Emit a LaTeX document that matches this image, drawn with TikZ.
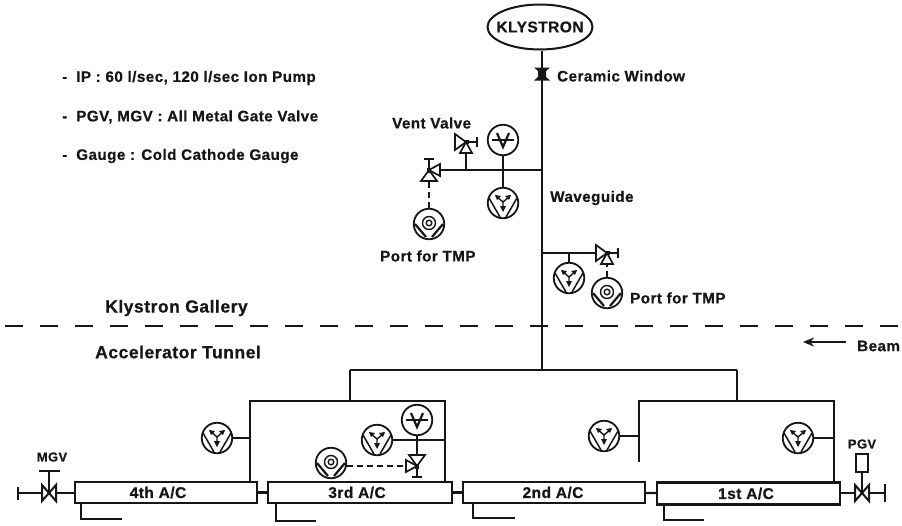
\documentclass[tikz,border=0pt]{standalone}
\usepackage{fontspec}
\setmainfont[LetterSpace=3,BoldFeatures={FakeBold=0.6}]{Liberation Sans}
\usetikzlibrary{shapes.geometric,arrows.meta}
\definecolor{ink}{HTML}{161616}
\tikzset{
 x=1pt,y=-1pt,
 every path/.style={color=ink},
 wire/.style={line width=1.7pt,color=ink},
 thick wire/.style={line width=2.4pt,color=ink},
 dash wire/.style={line width=1.6pt,color=ink,dash pattern=on 6pt off 4pt},
 lab/.style={font=\bfseries\fontsize{15.2}{17}\selectfont,text=ink,inner sep=0pt,anchor=west},
 biglab/.style={font=\bfseries\fontsize{17.5}{20}\selectfont,text=ink,inner sep=0pt,anchor=west},
 smlab/.style={font=\bfseries\fontsize{13}{15}\selectfont,text=ink,inner sep=0pt},
 acbox/.style={draw=ink,line width=2.2pt,fill=white,minimum height=21pt,inner sep=0pt,font=\bfseries\fontsize{15.5}{17}\selectfont,text=ink},
 sym/.style={circle,draw=ink,line width=1.8pt,fill=white,minimum size=30.5pt,inner sep=0pt},
 pump/.style={sym,path picture={\begin{scope}[shift={(path picture bounding box.center)},line width=1.5pt]
   \draw (-14,-5)--(-3,14); \draw (14,-5)--(3,14);
   \draw[line width=1.4pt] (-7,-7)--(0,-1)--(7,-7) (0,-1)--(0,7);
   \fill (-8,-8)--(-2,-7)--(-6,-3)--cycle (8,-8)--(2,-7)--(6,-3)--cycle (0,9)--(-3,3)--(3,3)--cycle;
 \end{scope}}},
 gauge/.style={sym,path picture={\begin{scope}[shift={(path picture bounding box.center)}]
   \draw[line width=1.7pt] (-11,0)--(11,0);
   \draw[line width=2.2pt] (-6,-7)--(0,7)--(6,-7);
 \end{scope}}},
 port/.style={sym,path picture={\begin{scope}[shift={(path picture bounding box.center)}]
   \draw[line width=1.4pt] (0,-1) circle (6.5pt);
   \draw[line width=1.4pt] (0,-1) circle (2.8pt);
   \draw[line width=2.2pt] (-14,0)--(-3,13) (14,0)--(3,13);
 \end{scope}}},
 pics/teevalve/.style={code={
   \draw[line width=1.7pt,fill=white] (0,0)--(-11,-8)--(-11,8)--cycle;
   \draw[line width=1.7pt,fill=white] (0,0)--(-6,11)--(6,11)--cycle;
   \draw[line width=1.7pt] (0,0)--(11,0);
   \draw[line width=1.8pt] (11,-5)--(11,5);
   \coordinate (-a) at (-11,0);
   \coordinate (-b) at (0,11);
   \fill (-2.5,-2) rectangle (2.5,2);
 }},
 pics/gatevalve/.style={code={
   \draw[line width=2pt,fill=white] (-7,-8)--(7,8)--(7,-8)--(-7,8)--cycle;
   \coordinate (-w) at (-7,0);
   \coordinate (-e) at (7,0);
   \coordinate (-n) at (0,0);
 }},
}
\begin{document}
\begin{tikzpicture}
\useasboundingbox (0,0) rectangle (902,525);

% klystron and main waveguide
\node[ellipse,draw=ink,line width=2pt,minimum width=105pt,minimum height=45pt,inner xsep=-8pt,inner ysep=0pt,font=\bfseries\fontsize{15.5}{18}\selectfont,text=ink] (kly) at (540,27) {KLYSTRON};
\coordinate (j1) at (542,170);
\coordinate (j2) at (542,253);
\coordinate (j3) at (542,370);
\draw[thick wire] (kly.south -| j1) -- (j3);
\fill[ink] (534,67.5) -- (550,67.5) -- (546,71) -- (546,77) -- (550,80.5) -- (534,80.5) -- (538,77) -- (538,71) -- cycle;
\node[lab] (tcw) at (557,76) {Ceramic Window};
\node[lab] (twg) at (550,198) {Waveguide};

% upper branch
\pic[rotate=90] (v1) at (429,170) {teevalve};
\pic (v2) at (466,142) {teevalve};
\node[gauge] (g1) at (503,140) {};
\node[pump] (p1) at (503,203) {};
\node[port] (q1) at (429,224) {};
\coordinate (j5) at (466,170);
\draw[wire] (j1) -- (v1-b);
\draw[wire] (g1) -- (p1);
\draw[wire] (j5) -- (v2-b);
\draw[dash wire] (q1.north) -- (v1-a);
\node[lab] (tvv) at (392,123) {Vent Valve};
\node[lab] (tp1) at (380,256) {Port for TMP};

% lower branch
\pic (v3) at (607,253) {teevalve};
\node[pump] (p2) at (569,278) {};
\node[port] (q2) at (607,293) {};
\draw[wire] (j2) -- (v3-a);
\draw[wire] (p2.north) -- (p2.north |- j2);
\draw[dash wire] (q2.north) -- (v3-b);
\node[lab] (tp2) at (630,298) {Port for TMP};

% notes
\node[lab] (n1) at (62,78) {-\hspace{9pt}IP : 60 l/sec, 120 l/sec Ion Pump};
\node[lab] (n2) at (62,117) {-\hspace{9pt}PGV, MGV : All Metal Gate Valve};
\node[lab] (n3) at (62,156) {-\hspace{9pt}Gauge : Cold Cathode Gauge};

% gallery / tunnel
\coordinate (dl) at (0,325.5);
\coordinate (dr) at (902,325.5);
\draw[line width=2pt,color=ink,dash pattern=on 18pt off 17pt,dash phase=30pt] (dl) -- (dr);
\node[biglab] (tkg) at (105,308) {Klystron Gallery};
\node[biglab] (tat) at (95,352) {Accelerator Tunnel};
\coordinate (ba) at (846,342);
\coordinate (bb) at (803,342);
\draw[line width=1.7pt,-{Stealth[length=11pt,width=9pt]}] (ba) -- (bb);
\node[lab] (tbm) at (857,346) {Beam};

% A/C boxes
\node[acbox,minimum width=182pt] (a4) at (166,492.5) {\hspace*{-16pt}4th A/C};
\node[acbox,minimum width=184pt] (a3) at (360,492.5) {\hspace*{-6pt}3rd A/C};
\node[acbox,minimum width=182pt] (a2) at (554,492.5) {\hspace*{-2pt}2nd A/C};
\node[acbox,minimum width=183pt,minimum height=22pt] (a1) at (748.5,493.5) {\hspace*{-5pt}1st A/C};
\draw[thick wire] (a4) -- (a3);
\draw[thick wire] (a3) -- (a2);
\draw[thick wire] (a2) -- (a1);

% distribution frame
\coordinate (t1) at (350,370);
\coordinate (t2) at (737,370);
\coordinate (f1a) at (250,401);
\coordinate (f1b) at (445,401);
\coordinate (f2a) at (639,401);
\coordinate (f2b) at (834,401);
\coordinate (f2c) at (639,462);
\draw[thick wire] (t1) -- (t2);
\draw[thick wire] (t1) -- (t1 |- f1a);
\draw[thick wire] (t2) -- (t2 |- f2a);
\draw[thick wire,line join=miter] (f1a |- a4.north) -- (f1a) -- (f1b) -- (f1b |- a3.north);
\draw[thick wire,line join=miter] (f2c) -- (f2a) -- (f2b) -- (f2b |- a1.north);

% tunnel pumps
\node[pump] (p3) at (217,438) {};
\node[pump] (p4) at (377,440) {};
\node[gauge] (g2) at (417,420) {};
\pic[rotate=-90] (v4) at (417,466) {teevalve};
\node[port] (q3) at (331,463) {};
\node[pump] (p5) at (604,436) {};
\node[pump] (p6) at (798,438) {};
\draw[wire] (p3) -- (p3 -| f1a);
\draw[wire] (p4) -- (p4 -| f1b);
\draw[wire] (g2) -- (v4-a);
\draw[dash wire] (q3.east |- v4-b) -- (v4-b);
\draw[wire] (p5) -- (p5 -| f2a);
\draw[wire] (p6) -- (p6 -| f2b);

% end valves
\pic (mg) at (49,493) {gatevalve};
\coordinate (mge) at (18,493);
\coordinate (mgs) at (49,471);
\draw[thick wire] (mge) -- (mg-w);
\draw[line width=2.6pt] (18,487) -- (18,500);
\draw[thick wire] (mg-e) -- (a4.west |- mg-e);
\draw[wire] (mg-n) -- (mgs);
\draw[wire] (39,471) -- (60,471);
\node[smlab] (tmg) at (52,457) {MGV};

\pic (pg) at (862,493) {gatevalve};
\node[draw=ink,line width=1.5pt,fill=white,minimum width=12pt,minimum height=18pt,inner sep=0pt] (pb) at (862,463) {};
\coordinate (pge) at (885,493);
\draw[thick wire] (a1.east |- pg-w) -- (pg-w);
\draw[thick wire] (pg-e) -- (pge);
\draw[line width=2.6pt] (885,484) -- (885,502);
\draw[wire] (pb) -- (pg-n);
\node[smlab] (tpg) at (862,444) {PGV};

% cooling stubs
\coordinate (s4) at (122,519);
\coordinate (s3) at (316,521);
\coordinate (s2) at (515,518);
\coordinate (s1) at (704,520);
\draw[wire] (81,503) |- (s4);
\draw[wire] (276,503) |- (s3);
\draw[wire] (473,503) |- (s2);
\draw[wire] (664,505) |- (s1);
\end{tikzpicture}
\end{document}
